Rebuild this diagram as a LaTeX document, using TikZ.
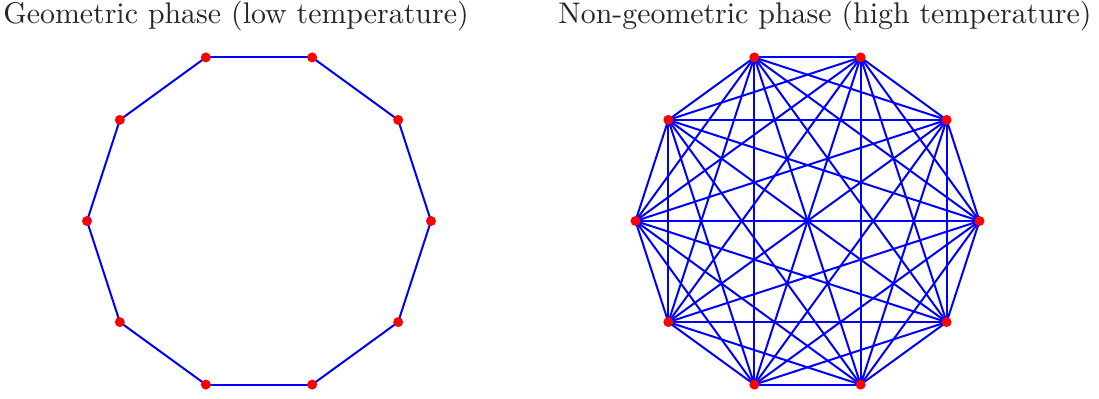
\documentclass[tikz,border=0pt]{standalone}
\usepackage{xcolor}
\usepackage{tikz}
\usetikzlibrary{positioning}

\begin{document}
\begin{tikzpicture}[
    vertex/.style = {circle, fill=red, inner sep=0pt, minimum size=0.1cm},
    edge/.style = {blue, line width=0.02cm},
    title/.style = {anchor=base, inner sep=0pt, font=\fontsize{10}{12}\selectfont, scale=0.85, transform shape, text=black!85}
]
    \useasboundingbox (0,0) rectangle (10.99,3.98);

    % Titles
    \node (lowtitle) [title] at (2.36,3.74) {Geometric phase (low temperature)};
    \node (hightitle) [title] at (8.25,3.74) {Non-geometric phase (high temperature)};

    % Vertices
    \foreach \i in {0,...,9} {
        \coordinate (lc\i) at ({2.59+1.72*cos(36*\i)},{1.77+1.72*sin(36*\i)});
        \coordinate (rc\i) at ({8.075+1.72*cos(36*\i)},{1.77+1.72*sin(36*\i)});
    }

    % Edges: ring on the left, complete graph on the right
    \foreach \i [evaluate=\i as \j using {int(mod(\i+1,10))}] in {0,...,9}
        \draw [edge] (lc\i) -- (lc\j);
    \foreach \i in {0,...,8} {
        \pgfmathtruncatemacro{\first}{\i+1}
        \foreach \j in {\first,...,9}
            \draw [edge] (rc\i) -- (rc\j);
    }

    % Dots
    \foreach \i in {0,...,9} {
        \node (l\i) [vertex] at (lc\i) {};
        \node (r\i) [vertex] at (rc\i) {};
    }

\end{tikzpicture}
\end{document}
